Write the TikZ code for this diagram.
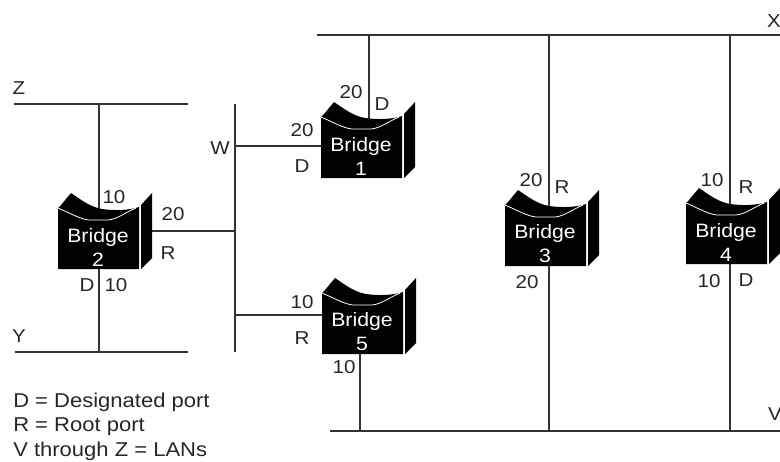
\documentclass[tikz,border=0pt]{standalone}
\usepackage{fontspec}
\setmainfont[FakeStretch=1.1]{Liberation Sans}
\usetikzlibrary{backgrounds}
\tikzset{
  every picture/.style={x=0.75pt,y=-0.75pt},
  lan/.style={draw=black!80,line width=0.9pt},
  lbl/.style={font=\fontsize{14}{16}\selectfont,inner sep=0pt,text=black!85},
  legend/.style={font=\fontsize{15}{17}\selectfont,inner sep=0pt,text=black!85,anchor=west},
  bridgetext/.style={font=\fontsize{14.5}{18}\selectfont,text=white,align=center,inner sep=0pt,text width=60.75pt,minimum height=46.5pt},
  bridgefill/.style={fill=black,draw=none}
}
% #1 name, #2 left x, #3 front top y, #4 number
\newcommand{\bridgebox}[4]{
  \begin{scope}[shift={(#2,#3)}]
    \fill[bridgefill] (0,0) -- (3,-3) -- (13,-15) .. controls (22,-9) and (32,-1) .. (44,1) .. controls (58,3) and (72,2) .. (81,-1) -- (81,61) -- (0,61) -- cycle;
    \fill[bridgefill] (83,-3) -- (94,-15) -- (94,50) -- (83,61) -- cycle;
    \draw[white,line width=0.6pt] (0,0) .. controls (14,6) and (22,11) .. (31,12) -- (50,12) .. controls (60,11) and (68,4) .. (78,0);
    \node[bridgetext] (#1) at (40,39) {Bridge\\#4};
    \coordinate (#1e) at (94,23);
  \end{scope}
}
\begin{document}
\begin{tikzpicture}
\useasboundingbox (0,0) rectangle (780,461);
\bridgebox{b1}{321}{117}{1}
\bridgebox{b2}{58}{208}{2}
\bridgebox{b3}{505}{205}{3}
\bridgebox{b4}{686}{203}{4}
\bridgebox{b5}{322}{293}{5}
% LAN end points
\coordinate (xl) at (317,35); \coordinate (xr) at (780,35);
\coordinate (vl) at (330,431); \coordinate (vr) at (780,431);
\coordinate (zl) at (14,104); \coordinate (zr) at (188,104);
\coordinate (yl) at (15,352); \coordinate (yr) at (188,352);
\coordinate (wt) at (235,104); \coordinate (wb) at (235,352);
\coordinate (w1) at (235,146); \coordinate (w2) at (235,231); \coordinate (w5) at (235,315);
\coordinate (x1) at (369,35); \coordinate (x3) at (549,35); \coordinate (x4) at (730,35);
\coordinate (v5) at (360,431); \coordinate (v3) at (549,431); \coordinate (v4) at (730,431);
\coordinate (z2) at (99,104); \coordinate (y2) at (99,352);
\begin{scope}[on background layer]
  \draw[lan] (xl) -- (xr);
  \draw[lan] (vl) -- (vr);
  \draw[lan] (zl) -- (zr);
  \draw[lan] (yl) -- (yr);
  \draw[lan] (wt) -- (wb);
  \draw[lan] (x1) -- (x1 |- b1.center);
  \draw[lan] (x3) -- (v3);
  \draw[lan] (x4) -- (v4);
  \draw[lan] (z2) -- (y2);
  \draw[lan] (w1) -- (w1 -| b1.center);
  \draw[lan] (w2) -- (b2e);
  \draw[lan] (w5) -- (w5 -| b5.center);
  \draw[lan] (v5) -- (v5 |- b5.center);
\end{scope}
% LAN labels
\node[lbl] (lx) at (774,21) {X};
\node[lbl] (lz) at (19,88) {Z};
\node[lbl] (lw) at (220,148) {W};
\node[lbl] (ly) at (19,336) {Y};
\node[lbl] (lv) at (775,414) {V};
% Port labels
\node[lbl] at (351,92) {20};
\node[lbl] at (382,104) {D};
\node[lbl] at (302,130) {20};
\node[lbl] at (302,166) {D};
\node[lbl] at (114,197) {10};
\node[lbl] at (173,214) {20};
\node[lbl] at (168,253) {R};
\node[lbl] at (87,285) {D};
\node[lbl] at (116,285) {10};
\node[lbl] at (302,302) {10};
\node[lbl] at (302,338) {R};
\node[lbl] at (344,367) {10};
\node[lbl] at (531,180) {20};
\node[lbl] at (562,187) {R};
\node[lbl] at (527,282) {20};
\node[lbl] at (712,180) {10};
\node[lbl] at (746,187) {R};
\node[lbl] at (709,281) {10};
\node[lbl] at (746,280) {D};
% Legend
\node[legend] at (13,402) {D = Designated port};
\node[legend] at (13,427) {R = Root port};
\node[legend] at (13,451) {V through Z = LANs};
\end{tikzpicture}
\end{document}
